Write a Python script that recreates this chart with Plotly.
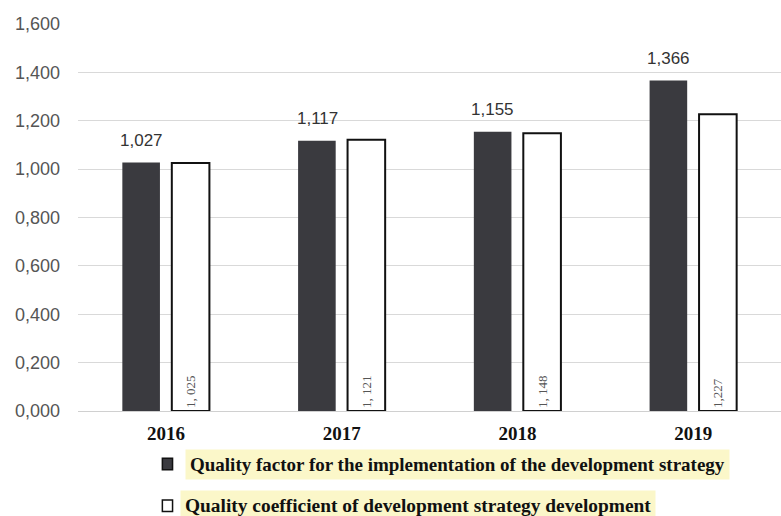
import plotly.graph_objects as go

years = ["2016", "2017", "2018", "2019"]
implementation = [1.027, 1.117, 1.155, 1.366]
development = [1.025, 1.121, 1.148, 1.227]
implementation_labels = ["1,027", "1,117", "1,155", "1,366"]
development_labels = ["1, 025", "1, 121", "1, 148", "1,227"]
y_ticks = [0, 0.2, 0.4, 0.6, 0.8, 1.0, 1.2, 1.4, 1.6]
y_tick_text = ["0,000", "0,200", "0,400", "0,600", "0,800", "1,000", "1,200", "1,400", "1,600"]
legend_names = [
    "Quality factor for the implementation of the development strategy",
    "Quality coefficient of development strategy development",
]

dark = "#3a3a3f"

fig = go.Figure()
fig.add_trace(go.Bar(
    x=years, y=implementation, name=legend_names[0],
    marker=dict(color=dark, line=dict(width=0)),
    showlegend=False,
))
fig.add_trace(go.Bar(
    x=years, y=development, name=legend_names[1],
    marker=dict(color="white", line=dict(color="#111111", width=2)),
    text=development_labels, textposition="inside", insidetextanchor="start",
    textangle=-90,
    textfont=dict(family="Liberation Serif", size=13, color="#555555"),
    showlegend=False,
))

# Value labels above the dark bars (category index, shifted onto the first bar of each group)
for idx, (value, label) in enumerate(zip(implementation, implementation_labels)):
    fig.add_annotation(
        x=idx, y=value, xref="x", yref="y", showarrow=False,
        xanchor="center", yanchor="bottom", xshift=-24.5, yshift=11,
        text=label, font=dict(family="Liberation Sans", size=17, color="#333333"),
    )

fig.update_layout(
    width=781, height=516,
    margin=dict(l=78, r=0, t=24, b=105),
    paper_bgcolor="white", plot_bgcolor="white",
    barmode="group", bargap=0.437, bargroupgap=0.24,
    xaxis=dict(
        type="category", range=[-0.5, len(years) - 0.5],
        showgrid=False, showline=False, ticks="", ticklabelstandoff=9,
        tickfont=dict(family="Liberation Serif", size=19, color="#111111", weight="bold"),
    ),
    yaxis=dict(
        range=[0, 1.6], tickvals=y_ticks, ticktext=y_tick_text,
        showgrid=True, gridcolor="#d9d9d9", gridwidth=1,
        zeroline=True, zerolinecolor="#d0d0d0", zerolinewidth=1,
        showline=False, ticks="", ticklabelstandoff=17,
        tickfont=dict(family="Liberation Sans", size=18, color="#555555"),
    ),
)

# Legend drawn below the plot: highlighted text with square swatches
legend_rows = [
    dict(y=-0.137, swatch_x=0.12, fill=dark, text_x=0.152, size=19),
    dict(y=-0.245, swatch_x=0.12, fill="white", text_x=0.145, size=19.4),
]
for name, row in zip(legend_names, legend_rows):
    fig.add_annotation(
        xref="paper", yref="paper", x=row["text_x"], y=row["y"],
        xanchor="left", yanchor="middle", showarrow=False,
        text=name, bgcolor="#fbf7c9", borderpad=4,
        font=dict(family="Liberation Serif", size=row["size"], color="#111111", weight="bold"),
    )
    fig.add_shape(
        type="rect", xref="paper", yref="paper",
        x0=row["swatch_x"], x1=row["swatch_x"] + 0.0145,
        y0=row["y"] - 0.015, y1=row["y"] + 0.015,
        fillcolor=row["fill"], line=dict(color="#111111", width=1.5),
    )

fig.write_html("out.html")
